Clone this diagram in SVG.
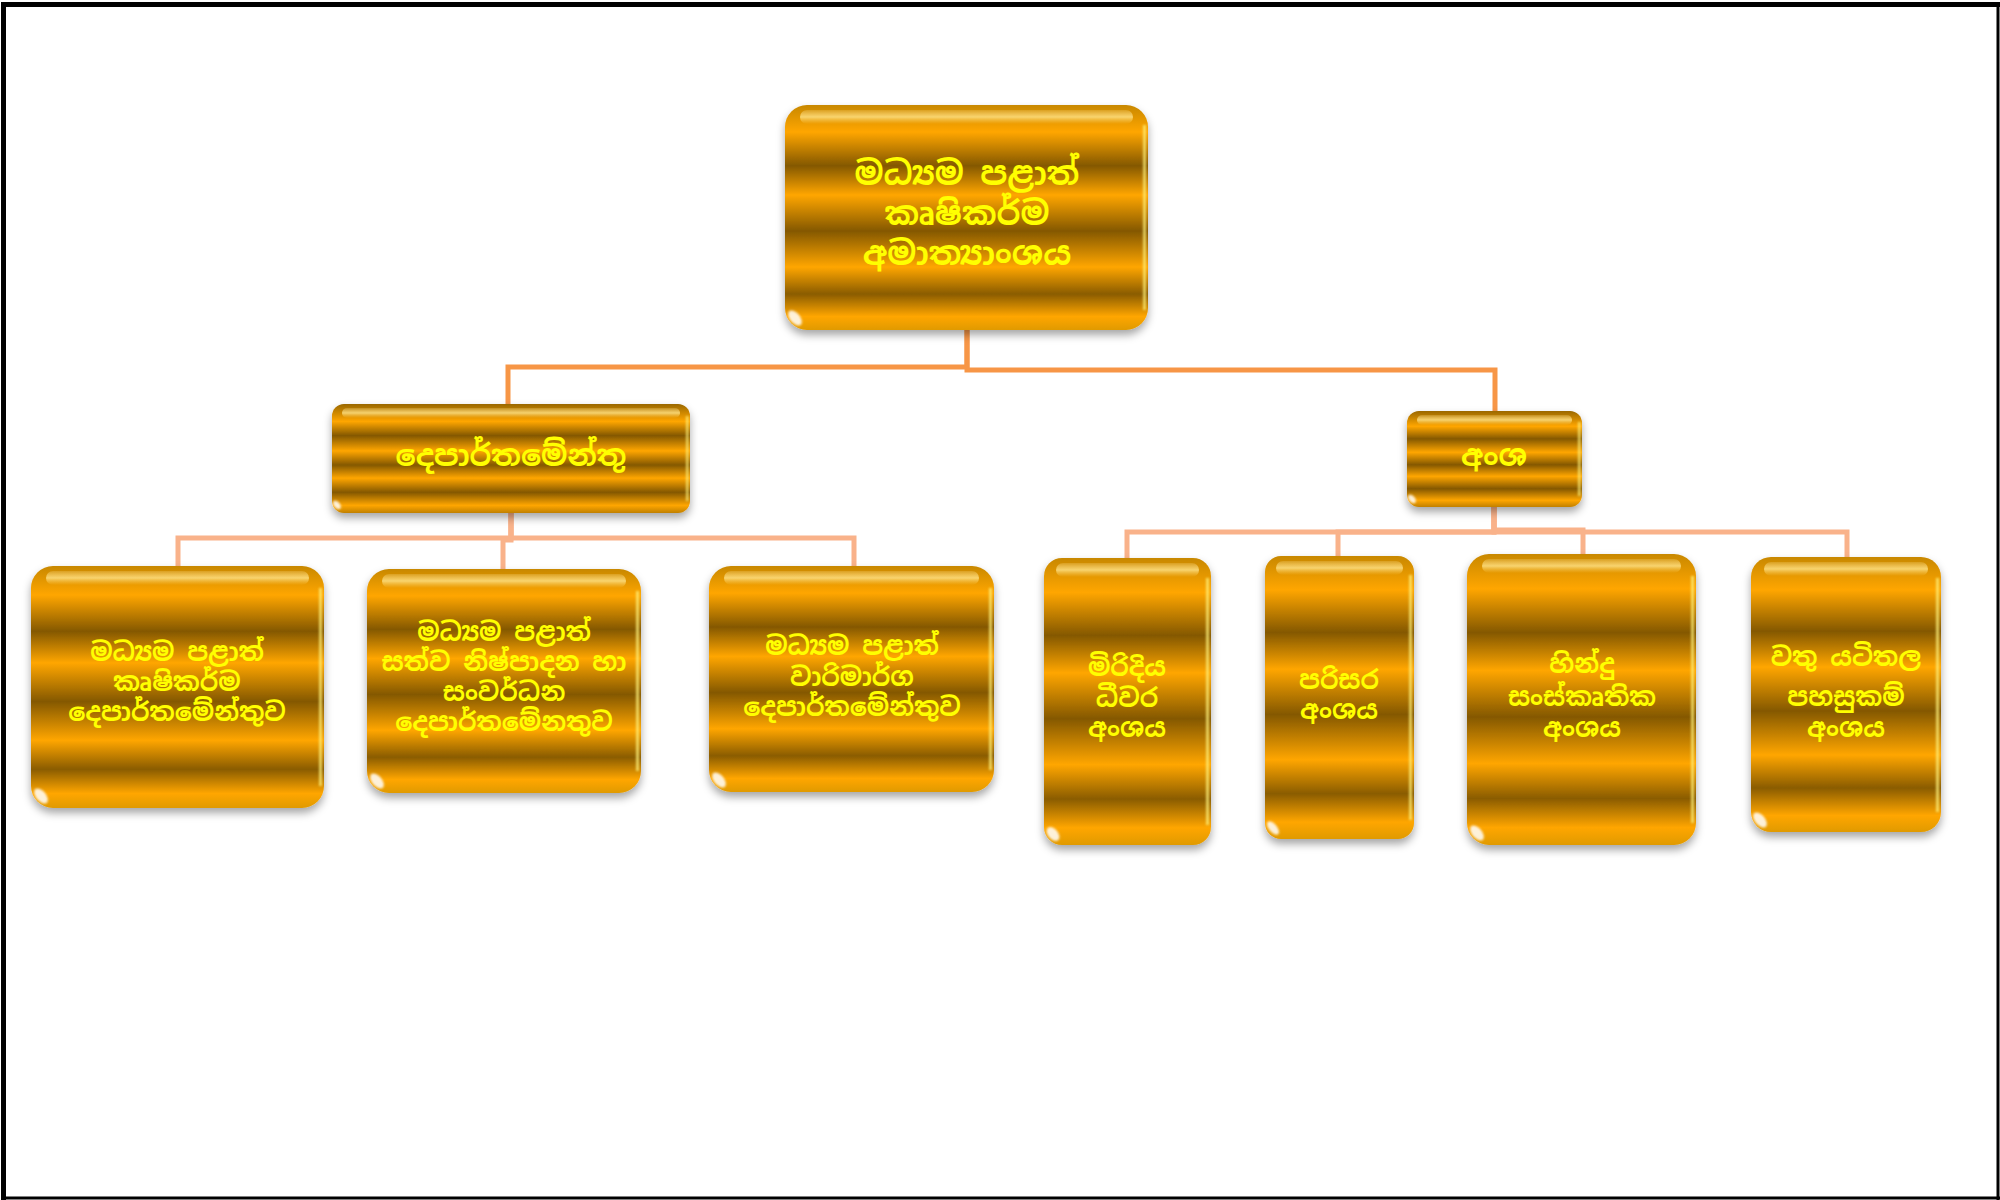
<svg xmlns="http://www.w3.org/2000/svg" width="2000" height="1200" viewBox="0 0 2000 1200">
<style>
.t{font-family:"Noto Sans Sinhala","Iskoola Pota","Noto Serif Sinhala","Noto Sans",sans-serif;fill:#FFFF00;font-weight:bold;text-anchor:middle}
.t1{font-size:33px}
.t2{font-size:30px}
.t3{font-size:25.5px}
.cu{fill:none;stroke:#F79646;stroke-width:5}
.cl{fill:none;stroke:#F9B28A;stroke-width:5}
.bev{fill:url(#bevel)}
.rg{fill:#FFF27A;opacity:0.75}
.hl{fill:#FFFFFF;opacity:0.85}
</style>
<defs>
<linearGradient id="gL1" x1="0" y1="0" x2="0" y2="1">
<stop offset="0" stop-color="#9A6800"/>
<stop offset="0.16" stop-color="#FFA600"/>
<stop offset="0.29" stop-color="#845800"/>
<stop offset="0.43" stop-color="#FFA600"/>
<stop offset="0.56" stop-color="#845800"/>
<stop offset="0.68" stop-color="#FFA600"/>
<stop offset="0.81" stop-color="#845800"/>
<stop offset="0.93" stop-color="#FFA600"/>
<stop offset="1" stop-color="#C08000"/>
</linearGradient>
<linearGradient id="gCh" x1="0" y1="0" x2="0" y2="1">
<stop offset="0" stop-color="#C88800"/>
<stop offset="0.12" stop-color="#FFA600"/>
<stop offset="0.27" stop-color="#845800"/>
<stop offset="0.40" stop-color="#FFA600"/>
<stop offset="0.56" stop-color="#845800"/>
<stop offset="0.72" stop-color="#FFA600"/>
<stop offset="0.84" stop-color="#8A5C00"/>
<stop offset="0.94" stop-color="#FFA600"/>
<stop offset="1" stop-color="#E09A00"/>
</linearGradient>
<linearGradient id="bevel" x1="0" y1="0" x2="0" y2="1">
<stop offset="0" stop-color="#FFE9A0" stop-opacity="0.2"/>
<stop offset="0.5" stop-color="#FFE48A" stop-opacity="0.8"/>
<stop offset="1" stop-color="#FFD060" stop-opacity="0"/>
</linearGradient>
<filter id="sh" x="-10%" y="-10%" width="120%" height="130%">
<feDropShadow dx="0" dy="5" stdDeviation="4" flood-color="#000" flood-opacity="0.35"/>
</filter>
<filter id="bl" x="-50%" y="-50%" width="200%" height="200%">
<feGaussianBlur stdDeviation="1.2"/>
</filter>
</defs>
<rect x="0" y="0" width="2000" height="1200" fill="#FFFFFF"/>
<g id="frame" fill="none" stroke="#000">
<line x1="3.5" y1="2" x2="3.5" y2="1200" stroke-width="5"/>
<line x1="1" y1="4.5" x2="2000" y2="4.5" stroke-width="5"/>
<line x1="1998" y1="2" x2="1998" y2="1200" stroke-width="3"/>
<line x1="1" y1="1198" x2="2000" y2="1198" stroke-width="3"/>
</g>
<g id="connectors">
<path class="cu" d="M967,330 V367 H508 V404"/>
<path class="cu" d="M967,330 V370 H1495 V411"/>
<path class="cl" d="M511,513 V538 H178 V566"/>
<path class="cl" d="M511,513 V540 H503 V569"/>
<path class="cl" d="M511,513 V538 H854 V566"/>
<path class="cl" d="M1494,507 V532 H1127 V558"/>
<path class="cl" d="M1494,507 V532 H1338 V556"/>
<path class="cl" d="M1494,507 V530 H1583 V554"/>
<path class="cl" d="M1494,507 V532 H1847 V557"/>
</g>
<g id="n-top">
<rect x="785" y="105" width="363" height="225" rx="22" fill="url(#gCh)" filter="url(#sh)"/>
<rect class="bev" x="800" y="110" width="333" height="14" rx="7"/>
<rect class="rg" x="1143" y="125" width="3" height="185" filter="url(#bl)"/>
<ellipse class="hl" cx="795" cy="318" rx="5" ry="9" transform="rotate(-40 795 318)" filter="url(#bl)"/>
<text class="t t1" x="967" y="185">මධ්‍යම පළාත්</text>
<text class="t t1" x="967" y="225">කෘෂිකර්ම</text>
<text class="t t1" x="967" y="265">අමාත්‍යාංශය</text>
</g>
<g id="n-dep">
<rect x="332" y="404" width="358" height="109" rx="12" fill="url(#gL1)" filter="url(#sh)"/>
<rect class="bev" x="342" y="408" width="338" height="10" rx="5"/>
<rect class="rg" x="686" y="416" width="2.5" height="85" filter="url(#bl)"/>
<ellipse class="hl" cx="337" cy="505" rx="3" ry="5" transform="rotate(-40 337 505)" filter="url(#bl)"/>
<text class="t t2" x="511" y="466">දෙපාර්තමේන්තු</text>
</g>
<g id="n-ansha">
<rect x="1407" y="411" width="175" height="96" rx="12" fill="url(#gL1)" filter="url(#sh)"/>
<rect class="bev" x="1417" y="415" width="155" height="10" rx="5"/>
<rect class="rg" x="1578" y="422" width="2.5" height="74" filter="url(#bl)"/>
<ellipse class="hl" cx="1412" cy="499" rx="3" ry="5" transform="rotate(-40 1412 499)" filter="url(#bl)"/>
<text class="t t2" x="1494" y="466">අංශ</text>
</g>
<g id="n-a">
<rect x="31" y="566" width="293" height="242" rx="22" fill="url(#gCh)" filter="url(#sh)"/>
<rect class="bev" x="46" y="571" width="263" height="14" rx="7"/>
<rect class="rg" x="319" y="588" width="3" height="198" filter="url(#bl)"/>
<ellipse class="hl" cx="41" cy="796" rx="5" ry="9" transform="rotate(-40 41 796)" filter="url(#bl)"/>
<text class="t t3" x="177" y="661">මධ්‍යම පළාත්</text>
<text class="t t3" x="177" y="691">කෘෂිකර්ම</text>
<text class="t t3" x="177" y="721">දෙපාර්තමේන්තුව</text>
</g>
<g id="n-b">
<rect x="367" y="569" width="274" height="224" rx="22" fill="url(#gCh)" filter="url(#sh)"/>
<rect class="bev" x="382" y="574" width="244" height="14" rx="7"/>
<rect class="rg" x="636" y="591" width="3" height="180" filter="url(#bl)"/>
<ellipse class="hl" cx="377" cy="781" rx="5" ry="9" transform="rotate(-40 377 781)" filter="url(#bl)"/>
<text class="t t3" x="504" y="641">මධ්‍යම පළාත්</text>
<text class="t t3" x="504" y="671">සත්ව නිෂ්පාදන හා</text>
<text class="t t3" x="504" y="701">සංවර්ධන</text>
<text class="t t3" x="504" y="731">දෙපාර්තමේනතුව</text>
</g>
<g id="n-c">
<rect x="709" y="566" width="285" height="226" rx="22" fill="url(#gCh)" filter="url(#sh)"/>
<rect class="bev" x="724" y="571" width="255" height="14" rx="7"/>
<rect class="rg" x="989" y="588" width="3" height="182" filter="url(#bl)"/>
<ellipse class="hl" cx="719" cy="780" rx="5" ry="9" transform="rotate(-40 719 780)" filter="url(#bl)"/>
<text class="t t3" x="852" y="655">මධ්‍යම පළාත්</text>
<text class="t t3" x="852" y="686">වාරිමාර්ග</text>
<text class="t t3" x="852" y="716">දෙපාර්තමේන්තුව</text>
</g>
<g id="n-d">
<rect x="1044" y="558" width="167" height="287" rx="18" fill="url(#gCh)" filter="url(#sh)"/>
<rect class="bev" x="1056" y="563" width="143" height="14" rx="7"/>
<rect class="rg" x="1206" y="578" width="3" height="247" filter="url(#bl)"/>
<ellipse class="hl" cx="1053" cy="834" rx="5" ry="8" transform="rotate(-40 1053 834)" filter="url(#bl)"/>
<text class="t t3" x="1127" y="676">මිරිදිය</text>
<text class="t t3" x="1127" y="707">ධීවර</text>
<text class="t t3" x="1127" y="737">අංශය</text>
</g>
<g id="n-e">
<rect x="1265" y="556" width="149" height="283" rx="16" fill="url(#gCh)" filter="url(#sh)"/>
<rect class="bev" x="1276" y="561" width="127" height="14" rx="7"/>
<rect class="rg" x="1409" y="575" width="3" height="245" filter="url(#bl)"/>
<ellipse class="hl" cx="1273" cy="828" rx="4" ry="8" transform="rotate(-40 1273 828)" filter="url(#bl)"/>
<text class="t t3" x="1339" y="689">පරිසර</text>
<text class="t t3" x="1339" y="719">අංශය</text>
</g>
<g id="n-f">
<rect x="1467" y="554" width="229" height="291" rx="22" fill="url(#gCh)" filter="url(#sh)"/>
<rect class="bev" x="1482" y="559" width="199" height="14" rx="7"/>
<rect class="rg" x="1691" y="576" width="3" height="247" filter="url(#bl)"/>
<ellipse class="hl" cx="1477" cy="833" rx="5" ry="9" transform="rotate(-40 1477 833)" filter="url(#bl)"/>
<text class="t t3" x="1582" y="673">හින්දු</text>
<text class="t t3" x="1582" y="706">සංස්කෘතික</text>
<text class="t t3" x="1582" y="737">අංශය</text>
</g>
<g id="n-g">
<rect x="1751" y="557" width="190" height="275" rx="20" fill="url(#gCh)" filter="url(#sh)"/>
<rect class="bev" x="1764" y="562" width="164" height="14" rx="7"/>
<rect class="rg" x="1936" y="578" width="3" height="234" filter="url(#bl)"/>
<ellipse class="hl" cx="1760" cy="820" rx="5" ry="9" transform="rotate(-40 1760 820)" filter="url(#bl)"/>
<text class="t t3" x="1846" y="666">වතු යටිතල</text>
<text class="t t3" x="1846" y="706">පහසුකම්</text>
<text class="t t3" x="1846" y="737">අංශය</text>
</g>
</svg>
